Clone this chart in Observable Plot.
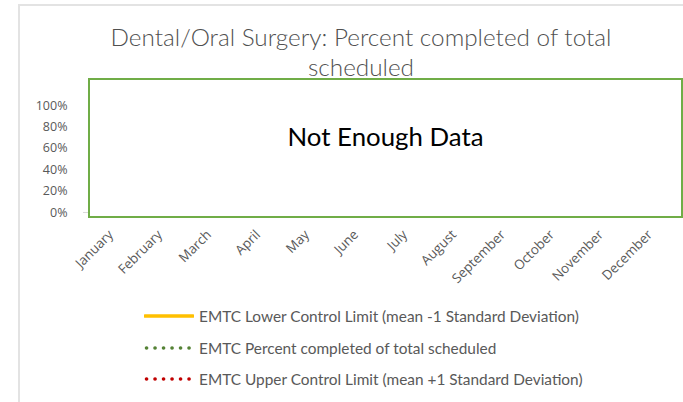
<!DOCTYPE html>
<html>
<head>
<meta charset="utf-8">
<script src="https://cdn.jsdelivr.net/npm/d3@7"></script>
<script src="https://cdn.jsdelivr.net/npm/@observablehq/plot@0.6"></script>
<style>
  html, body { margin: 0; padding: 0; background: #fff; }
  #wrap { position: relative; width: 683px; height: 402px; overflow: hidden; background: #fff; }
  #frame { position: absolute; left: 18px; top: 4px; width: 700px; height: 420px; border-left: 2px solid #e3e3e3; border-top: 2px solid #e3e3e3; box-sizing: border-box; }
  #title { position: absolute; left: 0; width: 722px; top: 22px; text-align: center; font-family: "Lato", sans-serif; font-weight: 300; font-size: 24.3px; line-height: 30px; color: #505050; }
  #chart { position: absolute; left: 0; top: 0; }
  #nodata { position: absolute; left: 88px; top: 78px; width: 595px; height: 140px; box-sizing: border-box; border: 2.5px solid #70ad47; background: #fff; }
  #nodata span { position: absolute; left: 0; right: 0; top: 41px; text-align: center; font-family: "Lato", sans-serif; font-size: 25.8px; color: #000; }
  #legend { position: absolute; left: 144px; top: 306px; font-family: "Lato", sans-serif; font-size: 15.4px; color: #595959; }
  .row { position: absolute; left: 0; white-space: nowrap; height: 20px; display: flex; align-items: center; }
  .row svg { margin-right: 5px; }
</style>
</head>
<body>
<div id="wrap">
  <div id="frame"></div>
  <div id="chart"></div>
  <div id="title">Dental/Oral Surgery: Percent completed of total<br>scheduled</div>
  <div id="nodata"><span>Not Enough Data</span></div>
  <div id="legend"></div>
</div>
<script>
const months = ["January","February","March","April","May","June","July","August","September","October","November","December"];
const yTicks = [0, 0.2, 0.4, 0.6, 0.8, 1.0];
// No data values available for any series
const lowerLimit = [];
const percentCompleted = [];
const upperLimit = [];
const seriesNames = [
  "EMTC Lower Control Limit (mean -1 Standard Deviation)",
  "EMTC Percent completed of total scheduled",
  "EMTC Upper Control Limit (mean +1 Standard Deviation)"
];
const seriesColors = ["#ffc000", "#548235", "#c00000"];

const toRows = (arr) => arr.map((v, i) => ({month: months[i], value: v}));

const chart = Plot.plot({
  width: 683,
  height: 402,
  marginLeft: 89,
  marginRight: 1,
  marginTop: 105,
  marginBottom: 190,
  style: {background: "transparent", fontFamily: "Open Sans, sans-serif"},
  x: {type: "band", domain: months, padding: 0, label: null},
  y: {domain: [0, 1], label: null},
  marks: [
    Plot.axisY({ticks: yTicks, tickFormat: d3.format(".0%"), tickSize: 0, tickPadding: 22, fontSize: 12.5, color: "#595959", label: null}),
    Plot.axisY({ticks: [0], tickFormat: () => "", tickSize: 6, stroke: "#d9d9d9", label: null}),
    Plot.axisX({tickRotate: -45, tickSize: 0, tickPadding: 20, dx: -6, fontSize: 13.3, color: "#595959", textAnchor: "end", label: null}),
    Plot.line(toRows(lowerLimit), {x: "month", y: "value", stroke: seriesColors[0], strokeWidth: 3}),
    Plot.line(toRows(percentCompleted), {x: "month", y: "value", stroke: seriesColors[1], strokeWidth: 3, strokeDasharray: "0.1 8", strokeLinecap: "round"}),
    Plot.line(toRows(upperLimit), {x: "month", y: "value", stroke: seriesColors[2], strokeWidth: 3, strokeDasharray: "0.1 8", strokeLinecap: "round"})
  ]
});
document.getElementById("chart").appendChild(chart);

const legend = document.getElementById("legend");
seriesNames.forEach((name, i) => {
  const row = document.createElement("div");
  row.className = "row";
  row.style.top = (i * 31.5) + "px";
  const dashed = i > 0;
  row.innerHTML = `<svg width="50" height="8"><line x1="${dashed ? 2.5 : 1}" x2="${dashed ? 47 : 49}" y1="4" y2="4" stroke="${seriesColors[i]}" stroke-width="${dashed ? 3.6 : 3.5}" stroke-linecap="round" ${dashed ? 'stroke-dasharray="0.1 8.4"' : ''}/></svg><span>${name}</span>`;
  legend.appendChild(row);
});
</script>
</body>
</html>
